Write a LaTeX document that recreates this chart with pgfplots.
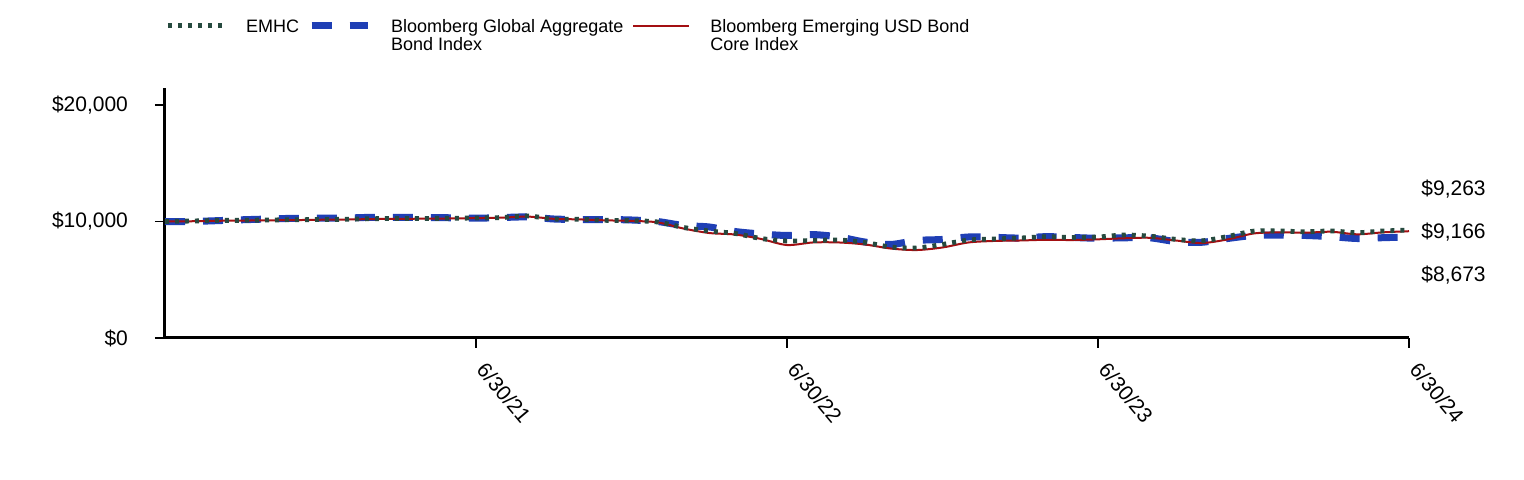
\documentclass[border=0pt]{standalone}
\usepackage{pgfplots}
\pgfplotsset{compat=1.18}
\usepackage{pgfplotstable}
\usepackage{fontspec}
\setmainfont{Liberation Sans}
\definecolor{emhc}{HTML}{264A3F}
\definecolor{gagg}{HTML}{1F3FB5}
\definecolor{emusd}{HTML}{A30F12}

\pgfplotstableread{
m emhc gagg emusd
0 10000 10000 10000
1 10040 10000 10020
2 10090 10070 10060
3 10100 10150 10080
4 10130 10215 10100
5 10150 10275 10120
6 10170 10280 10150
7 10190 10300 10170
8 10240 10360 10210
9 10260 10360 10230
10 10260 10340 10240
11 10280 10320 10260
12 10300 10280 10290
13 10340 10340 10330
14 10470 10390 10420
15 10215 10215 10230
16 10190 10170 10180
17 10100 10170 10100
18 10070 10130 10050
19 9960 10000 9930
20 9490 9660 9400
21 9185 9530 9010
22 8970 9140 8880
23 8540 8930 8500
24 8330 8800 7980
25 8370 8880 8200
26 8410 8670 8200
27 8200 8240 8030
28 7810 8030 7680
29 7730 8370 7550
30 8030 8460 7770
31 8410 8670 8200
32 8500 8640 8330
33 8580 8580 8370
34 8690 8700 8430
35 8630 8630 8410
36 8670 8560 8470
37 8840 8600 8560
38 8740 8600 8600
39 8470 8280 8370
40 8340 8215 8150
41 8710 8540 8460
42 9170 8800 8970
43 9185 8840 9070
44 9120 8800 9040
45 9185 8700 9120
46 9040 8540 8900
47 9185 8610 9070
48 9263 8673 9166
}\data

\begin{document}
\begin{tikzpicture}
\begin{axis}[
  scale only axis, width=622pt, height=125pt,
  xmin=0, xmax=48, ymin=0, ymax=21460,
  axis x line*=bottom, axis y line*=left,
  axis line style={line width=1.5pt, black},
  clip=false,
  tick align=outside,
  major tick length=5pt,
  every tick/.style={black, line width=0.75pt},
  scaled y ticks=false,
  xtick={12,24,36,48},
  xticklabels={6/30/21,6/30/22,6/30/23,6/30/24},
  ytick={0,10000,20000},
  yticklabels={{\$0},{\$10,000},{\$20,000}},
  tick label style={font=\fontsize{10.5}{12}\selectfont},
  xticklabel style={anchor=center, xshift=14pt, yshift=-22.5pt, rotate=-50},
  yticklabel style={anchor=east, xshift=-10pt},
  legend columns=3,
  legend style={at={(0,1)}, anchor=north west, yshift=36.65pt, inner sep=0pt, draw=none,
    font=\fontsize{9}{9.2}\selectfont,
    cells={anchor=base west, inner sep=0pt},
    /tikz/every odd column/.append style={column sep=8pt},
    /tikz/every even column/.append style={column sep=2.5pt}},
  legend image code/.code={\draw[#1] (0pt,3.2pt) -- (28pt,3.2pt);},
]
\addplot[gagg, line width=3.5pt, dash pattern=on 10pt off 9pt, smooth, forget plot] table[x=m, y=gagg] {\data};
\addplot[emusd, line width=1pt, smooth, forget plot] table[x=m, y=emusd] {\data};
\addplot[emhc, line width=2.4pt, dash pattern=on 2pt off 3pt, smooth, forget plot] table[x=m, y=emhc] {\data};
\addlegendimage{emhc, line width=2.4pt, dash pattern=on 2pt off 3pt}
\addlegendentry{EMHC}
\addlegendimage{gagg, line width=3.5pt, dash pattern=on 10pt off 9pt}
\addlegendentry{\begin{tabular}[t]{@{}l@{}}Bloomberg Global Aggregate\\Bond Index\end{tabular}}
\addlegendimage{emusd, line width=1pt}
\addlegendentry{\begin{tabular}[t]{@{}l@{}}Bloomberg Emerging USD Bond\\Core Index\end{tabular}}
\coordinate (O) at (rel axis cs:0,0);
\node[anchor=west, inner sep=0pt, font=\fontsize{10.5}{12}\selectfont] at (axis cs:48,12790) [xshift=6pt] {\$9,263};
\node[anchor=west, inner sep=0pt, font=\fontsize{10.5}{12}\selectfont] at (axis cs:48,9099) [xshift=6pt] {\$9,166};
\node[anchor=west, inner sep=0pt, font=\fontsize{10.5}{12}\selectfont] at (axis cs:48,5408) [xshift=6pt] {\$8,673};
\end{axis}
\useasboundingbox (O) ++(-82.5pt,-71pt) rectangle ++(762pt,240pt);
\end{tikzpicture}
\end{document}
